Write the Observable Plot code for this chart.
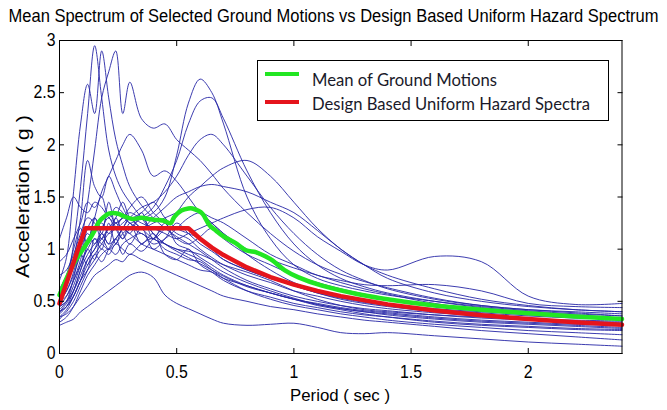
<!DOCTYPE html>
<html><head><meta charset="utf-8">
<script src="https://cdn.jsdelivr.net/npm/d3@7"></script>
<script src="https://cdn.jsdelivr.net/npm/@observablehq/plot@0.6"></script>
<style>body{margin:0;background:#fff}</style>
</head><body><div id="chart"></div>
<script>
// Period grid (sec) shared by all ground-motion spectra
const periods = [0, .03, .06, .09, .12, .15, .18, .21, .24, .27, .3, .35, .4, .45, .5, .55, .6, .65, .7, .8, .9, 1.0, 1.1, 1.2, 1.3, 1.4, 1.6, 1.8, 2.0, 2.2, 2.4];
// Spectral accelerations (g) of the selected ground motions
const gm01 = [0.55,0.68,1.05,1.6,2.3,2.95,2.45,1.95,1.7,1.55,1.45,1.3,1.15,1.05,0.98,0.92,0.86,0.8,0.74,0.64,0.58,0.52,0.47,0.43,0.4,0.38,0.34,0.31,0.29,0.27,0.25];
const gm02 = [0.7,0.92,1.55,2.2,2.58,2.3,2.9,2.45,2.05,1.8,1.6,1.42,1.3,1.2,1.12,1.05,0.98,0.9,0.82,0.7,0.62,0.55,0.5,0.46,0.43,0.41,0.37,0.34,0.32,0.3,0.28];
const gm03 = [0.5,0.6,0.78,1.05,1.45,1.95,2.45,2.7,2.9,2.3,2.6,2.25,2.16,2.2,2.05,1.95,1.85,1.72,1.58,1.35,1.15,0.98,0.85,0.76,0.69,0.63,0.53,0.46,0.42,0.39,0.36];
const gm04 = [0.45,0.5,0.6,0.75,0.9,1.0,1.1,1.2,1.25,1.3,1.35,1.3,1.35,1.5,1.9,2.4,2.63,2.5,2.2,1.5,1.1,0.85,0.72,0.65,0.6,0.56,0.5,0.45,0.41,0.38,0.36];
const gm05 = [0.4,0.45,0.55,0.7,0.85,0.95,1.05,1.15,1.2,1.1,1.2,1.3,1.4,1.6,1.85,2.2,2.42,2.45,2.25,1.75,1.35,1.05,0.85,0.72,0.64,0.58,0.5,0.44,0.4,0.37,0.34];
const gm06 = [0.35,0.42,0.55,0.7,0.9,1.0,1.15,1.05,1.1,1.2,1.3,1.4,1.45,1.55,1.7,1.9,2.05,2.1,2.0,1.7,1.4,1.15,0.95,0.8,0.7,0.62,0.52,0.46,0.42,0.4,0.38];
const gm07 = [0.4,0.48,0.6,0.8,0.95,1.05,1.1,1.0,1.05,1.15,1.2,1.15,1.1,1.2,1.35,1.5,1.6,1.7,1.78,1.85,1.7,1.45,1.2,1.0,0.85,0.75,0.62,0.52,0.46,0.42,0.4];
const gm08 = [0.5,0.6,0.75,0.95,1.1,1.2,1.25,1.15,1.2,1.3,1.25,1.2,1.3,1.4,1.5,1.55,1.6,1.62,1.6,1.55,1.45,1.35,1.18,1.0,0.85,0.72,0.58,0.5,0.45,0.42,0.4];
const gm09 = [0.45,0.55,0.7,0.85,1.0,1.1,1.05,1.0,1.1,1.2,1.3,1.25,1.2,1.15,1.1,1.15,1.2,1.25,1.3,1.38,1.4,1.3,1.12,0.98,0.85,0.8,0.93,0.88,0.55,0.47,0.48];
const gm10 = [0.3,0.35,0.45,0.6,0.75,0.85,0.95,1.0,0.95,1.05,1.1,1.15,1.05,1.1,1.2,1.3,1.35,1.3,1.25,1.1,0.95,0.85,0.75,0.7,0.66,0.65,0.66,0.6,0.48,0.45,0.44];
const gm11 = [1.1,1.3,1.5,1.4,1.35,1.45,1.4,1.3,1.25,1.2,1.15,1.05,1.0,0.95,0.9,0.85,0.8,0.78,0.72,0.65,0.58,0.52,0.46,0.42,0.38,0.35,0.3,0.27,0.25,0.23,0.22];
const gm12 = [0.88,0.95,1.1,1.25,1.45,1.4,1.5,1.3,1.4,1.35,1.25,1.3,1.15,1.05,1.0,0.95,0.9,0.82,0.75,0.65,0.58,0.52,0.48,0.44,0.41,0.39,0.35,0.32,0.3,0.28,0.27];
const gm13 = [0.27,0.3,0.33,0.4,0.45,0.5,0.55,0.6,0.65,0.7,0.75,0.78,0.73,0.56,0.48,0.43,0.38,0.33,0.29,0.27,0.28,0.29,0.25,0.2,0.19,0.2,0.17,0.14,0.11,0.09,0.07];
const gm14 = [0.35,0.38,0.45,0.55,0.65,0.75,0.8,0.85,0.9,0.88,0.95,0.9,0.85,0.8,0.75,0.7,0.65,0.6,0.55,0.5,0.45,0.42,0.38,0.35,0.32,0.3,0.26,0.22,0.19,0.16,0.13];
const gm15 = [0.4,0.45,0.55,0.7,0.8,0.9,1.0,0.95,1.05,1.0,0.95,1.05,1.1,1.0,0.95,0.9,0.88,0.8,0.72,0.6,0.52,0.46,0.42,0.38,0.35,0.32,0.28,0.25,0.22,0.2,0.18];
const gm16 = [0.5,0.55,0.7,0.9,1.2,1.3,1.2,1.35,1.25,1.3,1.4,1.5,1.35,1.25,1.15,1.1,1.0,0.92,0.85,0.75,0.68,0.6,0.55,0.5,0.46,0.43,0.39,0.36,0.33,0.31,0.3];
const gm17 = [0.6,0.7,0.85,1.0,1.15,1.05,1.2,1.3,1.2,1.25,1.3,1.2,1.25,1.3,1.35,1.4,1.35,1.25,1.15,0.95,0.8,0.68,0.6,0.55,0.5,0.47,0.43,0.4,0.38,0.36,0.34];
const gm18 = [0.75,0.8,0.95,1.15,1.3,1.25,1.1,1.2,1.3,1.45,1.3,1.2,1.1,1.05,1.0,0.98,0.95,0.9,0.85,0.78,0.7,0.6,0.52,0.46,0.42,0.4,0.37,0.35,0.33,0.32,0.31];
const gm19 = [0.55,0.65,0.9,1.3,1.85,1.6,1.5,1.7,1.55,1.4,1.3,1.35,1.45,1.3,1.2,1.15,1.1,1.0,0.9,0.8,0.72,0.65,0.58,0.52,0.48,0.45,0.4,0.36,0.33,0.31,0.29];
const gm20 = [0.45,0.5,0.65,0.85,1.05,1.3,1.55,1.7,1.85,2.0,2.1,1.95,1.7,1.75,1.65,1.5,1.35,1.25,1.15,1.0,0.9,0.82,0.75,0.68,0.62,0.57,0.48,0.42,0.38,0.35,0.33];
const gm21 = [0.42,0.5,0.72,0.95,0.85,1.1,1.0,1.25,1.05,1.2,1.15,1.35,1.1,1.25,1.05,1.0,0.92,0.85,0.78,0.68,0.6,0.53,0.47,0.43,0.4,0.37,0.33,0.3,0.28,0.26,0.24];
const gm22 = [0.38,0.45,0.6,0.8,1.0,0.9,1.15,1.05,1.3,1.15,1.05,1.2,1.0,1.1,1.25,1.15,1.05,0.98,0.9,0.8,0.72,0.65,0.58,0.53,0.49,0.46,0.42,0.39,0.36,0.34,0.33];
const gm23 = [0.62,0.75,1.0,1.2,1.05,1.3,1.15,1.45,1.2,1.1,1.25,1.05,1.15,0.95,0.9,1.0,0.85,0.78,0.7,0.6,0.54,0.48,0.44,0.4,0.37,0.35,0.31,0.28,0.26,0.24,0.23];
const gm24 = [0.33,0.4,0.5,0.65,0.8,0.95,0.88,1.0,1.1,0.95,1.05,0.98,1.1,1.2,1.1,1.05,1.12,1.2,1.1,0.95,0.85,0.75,0.68,0.62,0.57,0.53,0.46,0.41,0.37,0.35,0.34];
const records = [gm01, gm02, gm03, gm04, gm05, gm06, gm07, gm08, gm09, gm10, gm11, gm12, gm13, gm14, gm15, gm16, gm17, gm18, gm19, gm20, gm21, gm22, gm23, gm24];

// Mean of ground motions
const meanPeriods = [0, .03, .068, .097, .124, .15, .168, .19, .21, .25, .27, .31, .35, .38, .41, .44, .474, .49, .52, .55, .567, .59, .61, .64, .667, .695, .75, .795, .84, .88, .91, .96, 1.02, 1.12, 1.27, 1.37, 1.6, 1.8, 2.0, 2.2, 2.4];
const meanAccel   = [0.56, 0.72, 0.89, 0.99, 1.08, 1.18, 1.26, 1.31, 1.34, 1.34, 1.32, 1.29, 1.3, 1.29, 1.28, 1.275, 1.25, 1.31, 1.37, 1.39, 1.39, 1.37, 1.34, 1.23, 1.18, 1.13, 1.06, 0.99, 0.97, 0.93, 0.89, 0.8, 0.73, 0.65, 0.57, 0.53, 0.46, 0.42, 0.385, 0.355, 0.33];

// Design based uniform hazard spectrum
const uhsPeriods = [0, 0.11, 0.55, 0.6, 0.65, 0.7, 0.8, 0.9, 1.0, 1.1, 1.2, 1.4, 1.6, 1.8, 2.0, 2.2, 2.4];
const uhsAccel   = [0.48, 1.2, 1.2, 1.1, 1.015, 0.943, 0.825, 0.733, 0.66, 0.6, 0.55, 0.471, 0.4125, 0.367, 0.33, 0.30, 0.275];

const xTicks = [0, 0.5, 1, 1.5, 2];
const yTicks = [0, 0.5, 1, 1.5, 2, 2.5, 3];
const titleText = "Mean Spectrum of Selected Ground Motions vs Design Based Uniform Hazard Spectrum";
const xLabel = "Period ( sec )";
const yLabel = "Acceleration ( g )";
const legendNames = ["Mean of Ground Motions", "Design Based Uniform Hazard Spectra"];

const blueData = records.flatMap((r, i) => r.map((a, j) => ({id: i, T: periods[j], A: a})));
const meanData = meanPeriods.map((t, i) => ({T: t, A: meanAccel[i]}));
const uhsData = uhsPeriods.map((t, i) => ({T: t, A: uhsAccel[i]}));

const FONT = "'Liberation Sans', Arial, sans-serif";
const plot = Plot.plot({
  width: 667, height: 410,
  marginLeft: 59, marginRight: 45.5, marginTop: 40, marginBottom: 57,
  style: {fontFamily: FONT, fontSize: "18px", background: "#fff", color: "#000", overflow: "visible"},
  x: {domain: [0, 2.4]},
  y: {domain: [0, 3]},
  marks: [
    Plot.line(blueData, {x: "T", y: "A", z: "id", stroke: "#2626a6", strokeWidth: 0.9, curve: "catmull-rom"}),
    Plot.line(meanData, {x: "T", y: "A", stroke: "#22e622", strokeWidth: 4.5, curve: "catmull-rom"}),
    Plot.line(uhsData, {x: "T", y: "A", stroke: "#e5141c", strokeWidth: 4.5}),
    Plot.frame({stroke: "#000", strokeWidth: 1}),
    Plot.axisX({ticks: xTicks, tickSize: 0, tickPadding: 12, tickFormat: d => String(d), label: null}),
    Plot.axisX({ticks: xTicks, tickSize: -5, tickFormat: () => "", label: null}),
    Plot.axisX({anchor: "top", ticks: xTicks, tickSize: -5, tickFormat: () => "", label: null}),
    Plot.axisY({ticks: yTicks, tickSize: 0, tickPadding: 4, tickFormat: d => String(d), label: null}),
    Plot.axisY({ticks: yTicks, tickSize: -5, tickFormat: () => "", label: null}),
    Plot.axisY({anchor: "right", ticks: yTicks, tickSize: -5, tickFormat: () => "", label: null})
  ]
});
document.getElementById("chart").append(plot);

// compress tick labels horizontally (narrow look of the original)
plot.querySelectorAll("g[aria-label='x-axis tick label'] text, g[aria-label='y-axis tick label'] text").forEach(t => {
  const w = t.getComputedTextLength();
  if (w > 0) { t.setAttribute("textLength", (w * 0.88).toFixed(1)); t.setAttribute("lengthAdjust", "spacingAndGlyphs"); }
});

const svg = d3.select(plot);
function addText(str, x, y, {size = 18, width = null, anchor = "middle", rotate = 0, sy = 1, family = FONT, fill = "#000", baseline = null} = {}) {
  const t = svg.append("text").attr("x", 0).attr("y", 0)
    .attr("transform", `translate(${x},${y})` + (rotate ? ` rotate(${rotate})` : "") + (sy !== 1 ? ` scale(1,${sy})` : ""))
    .attr("text-anchor", anchor).attr("font-family", family).attr("font-size", size).attr("fill", fill).text(str);
  if (baseline) t.attr("dominant-baseline", baseline);
  if (width) t.attr("textLength", width).attr("lengthAdjust", "spacingAndGlyphs");
  return t;
}
addText(titleText, 333.5, 22, {size: 15.5, sy: 1.15, width: 650});
addText(xLabel, 340, 401, {size: 17, width: 100});
addText(yLabel, 22, 196.5, {size: 19, width: 163, rotate: -90, baseline: "central"});

// legend
const lg = svg.append("g");
lg.append("rect").attr("x", 257.5).attr("y", 60.5).attr("width", 351).attr("height", 60).attr("fill", "#fff").attr("stroke", "#000").attr("stroke-width", 1);
lg.append("line").attr("x1", 265).attr("x2", 299).attr("y1", 74).attr("y2", 74).attr("stroke", "#22e622").attr("stroke-width", 4);
lg.append("line").attr("x1", 265).attr("x2", 299).attr("y1", 102).attr("y2", 102).attr("stroke", "#e5141c").attr("stroke-width", 4);
const LF = "Lato, 'Open Sans', sans-serif";
addText(legendNames[0], 312, 86, {size: 18, width: 185, anchor: "start", family: LF, fill: "#1a1a2a"});
addText(legendNames[1], 312, 110, {size: 18, width: 278, anchor: "start", family: LF, fill: "#1a1a2a"});
</script>
</body></html>
